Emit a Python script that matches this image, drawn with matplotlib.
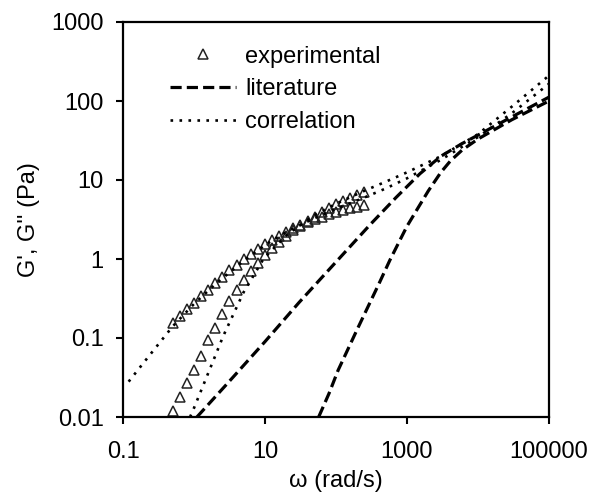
import matplotlib
matplotlib.use("Agg")
import matplotlib.pyplot as plt
from matplotlib.lines import Line2D

plt.rcParams['font.family'] = ['Liberation Sans', 'DejaVu Sans']

# experimental data (frequency sweep)
omega_exp = [0.5, 0.63, 0.79, 1.0, 1.26, 1.58, 2.0, 2.51, 3.16, 3.98, 5.01, 6.31, 7.94, 10.0,
             12.6, 15.8, 20.0, 25.1, 31.6, 39.8, 50.1, 63.1, 79.4, 100, 126, 158, 200, 251]
g_loss_exp = [0.156, 0.19, 0.23, 0.28, 0.34, 0.41, 0.5, 0.6, 0.72, 0.85, 1.0, 1.17, 1.35, 1.55,
              1.75, 1.95, 2.2, 2.45, 2.7, 2.95, 3.2, 3.45, 3.7, 3.95, 4.2, 4.4, 4.6, 4.8]
g_stor_exp = [0.012, 0.018, 0.027, 0.039, 0.059, 0.093, 0.135, 0.2, 0.29, 0.41, 0.55, 0.71, 0.9, 1.12,
              1.38, 1.65, 1.95, 2.3, 2.65, 3.0, 3.45, 3.9, 4.4, 4.9, 5.4, 5.9, 6.5, 7.1]

# literature model
omega_lit_loss = [1.1, 3, 10, 30, 107, 300, 700, 1520, 3000, 6000, 10000, 30000, 100000]
g_loss_lit = [0.01, 0.027, 0.09, 0.28, 0.98, 2.7, 6.0, 12.0, 20, 29, 37, 63, 112]
omega_lit_stor = [57, 80, 107, 200, 400, 575, 800, 1000, 1400, 2000, 3000, 4100, 6000, 10000,
                  30000, 100000]
g_stor_lit = [0.01, 0.02, 0.039, 0.13, 0.48, 0.97, 1.75, 2.6, 4.3, 7.3, 12.5, 17.5, 24, 33,
              58, 100]

# correlation
omega_cor_loss = [0.12, 0.2, 0.5, 1, 2, 5, 10, 20, 50, 100, 251, 500, 1000, 3000, 10000, 30000, 100000]
g_loss_cor = [0.028, 0.05, 0.14, 0.27, 0.48, 0.95, 1.5, 2.2, 3.3, 4.3, 6.0, 7.8, 10.5, 18, 35, 70, 165]
omega_cor_stor = [0.88, 1, 2, 2.57, 5, 9.5, 20, 50, 100, 251, 500, 1000, 3000, 10000, 30000, 100000]
g_stor_cor = [0.01, 0.013, 0.06, 0.105, 0.38, 1.0, 2.0, 3.6, 5.0, 7.3, 9.5, 12.5, 20, 38, 85, 210]

x_ticks = [0.1, 10, 1000, 100000]
x_ticklabels = ['0.1', '10', '1000', '100000']
y_ticks = [0.01, 0.1, 1, 10, 100, 1000]
y_ticklabels = ['0.01', '0.1', '1', '10', '100', '1000']

FS = 17
dash = (0, (3.5, 1.6))
dot = (0, (1, 2.4))

fig = plt.figure(figsize=(5.91, 4.96), dpi=100)
ax = fig.add_axes([123 / 591, 79 / 496, 426 / 591, 395 / 496])

tri = dict(marker='^', markersize=7.5, markerfacecolor='none', markeredgecolor='#222222',
           markeredgewidth=1.1, linestyle='none')
ax.plot(omega_exp, g_loss_exp, **tri)
ax.plot(omega_exp, g_stor_exp, **tri)

ax.plot(omega_lit_loss, g_loss_lit, color='black', lw=2.3, linestyle=dash)
ax.plot(omega_lit_stor, g_stor_lit, color='black', lw=2.3, linestyle=dash)
ax.plot(omega_cor_loss, g_loss_cor, color='black', lw=1.9, linestyle=dot)
ax.plot(omega_cor_stor, g_stor_cor, color='black', lw=1.9, linestyle=dot)

ax.set_xscale('log')
ax.set_yscale('log')
ax.set_xlim(0.1, 100000)
ax.set_ylim(0.01, 1000)
ax.set_xticks(x_ticks)
ax.set_xticklabels(x_ticklabels)
ax.set_yticks(y_ticks)
ax.set_yticklabels(y_ticklabels)
ax.minorticks_off()
ax.tick_params(axis='both', direction='out', length=5, width=1.5, labelsize=FS)
ax.tick_params(axis='y', pad=9)
ax.tick_params(axis='x', pad=12)
for s in ax.spines.values():
    s.set_linewidth(1.6)

ax.set_xlabel('ω (rad/s)', fontsize=FS, labelpad=5)
ax.set_ylabel("G', G'' (Pa)", fontsize=FS, labelpad=8)

handles = [
    Line2D([], [], **tri),
    Line2D([], [], color='black', lw=2.3, linestyle=dash),
    Line2D([], [], color='black', lw=1.9, linestyle=dot),
]
ax.legend(handles, ['experimental', 'literature', 'correlation'], loc='upper left',
          bbox_to_anchor=(0.11, 0.94), frameon=False, fontsize=FS, borderpad=0,
          borderaxespad=0, handlelength=2.8, handletextpad=0.4, labelspacing=0.45)

fig.savefig('out.png', dpi=100)
